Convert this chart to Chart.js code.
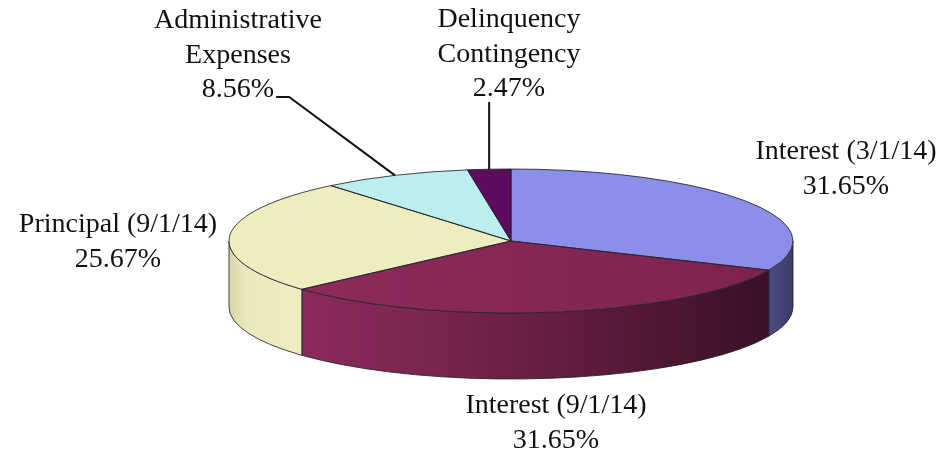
<!DOCTYPE html>
<html>
<head>
<meta charset="utf-8">
<script src="https://cdn.jsdelivr.net/npm/chart.js@4.4.1/dist/chart.umd.min.js"></script>
<style>
  html, body { margin: 0; padding: 0; background: #fff; }
  canvas { display: block; }
</style>
</head>
<body>
<canvas id="pie" width="948" height="459"></canvas>
<script>
// --- data ---
const categories = ['Interest (3/1/14)', 'Interest (9/1/14)', 'Principal (9/1/14)', 'Administrative Expenses', 'Delinquency Contingency'];
const shares = [31.65, 31.65, 25.67, 8.56, 2.47];
const labelLines = [['Interest (3/1/14)'], ['Interest (9/1/14)'], ['Principal (9/1/14)'], ['Administrative', 'Expenses'], ['Delinquency', 'Contingency']];

// --- look ---
const topColors = ['#8b8fe9', '#8c2a5a', '#ededc0', '#bdeeee', '#5e0a5e'];
const edgeColor = 'rgba(35,35,45,0.85)';
const FONT = '28px "Liberation Serif", "Times New Roman", serif';
const LINE_H = 34.5;

// ellipse of the top face and height of the side wall, in screen px
const CX = 511, CY = 241, RX = 282, RY = 72, DEPTH = 66;

// label anchors: centre x, first baseline
const labelPos = [
    { x: 846, y: 159 },
    { x: 556, y: 413 },
    { x: 118, y: 232 },
    { x: 238, y: 28 },
    { x: 509, y: 27 }
];
const leaderKind = [null, null, null, 'side', 'below'];

function sideFill(ctx, i) {
    let g;
    if (i === 0) {
        g = ctx.createLinearGradient(770, 0, 793, 0);
        g.addColorStop(0, '#4a4b82');
        g.addColorStop(1, '#3c3c69');
    } else if (i === 1) {
        g = ctx.createLinearGradient(300, 0, 770, 0);
        g.addColorStop(0, '#8d2b5c');
        g.addColorStop(0.45, '#6c2047');
        g.addColorStop(1, '#3a1025');
    } else {
        g = ctx.createLinearGradient(228, 0, 300, 0);
        g.addColorStop(0, '#d6d5a6');
        g.addColorStop(0.25, '#eae9bb');
        g.addColorStop(1, '#efeec2');
    }
    return g;
}

function topBackground(c) {
    const i = c.dataIndex;
    const area = c.chart.chartArea;
    if (i !== 1 || !area) return topColors[i];
    const mid = (area.left + area.right) / 2;
    const r = Math.min(area.right - area.left, area.bottom - area.top) / 2;
    const g = c.chart.ctx.createLinearGradient(mid - r, 0, mid + r, 0);
    g.addColorStop(0, '#902c5d');
    g.addColorStop(1, '#7c224e');
    return g;
}

function toScreen(ctx, a0) {
    const R = a0.outerRadius;
    ctx.translate(CX, CY);
    ctx.scale(RX / R, RY / R);
    ctx.translate(-a0.x, -a0.y);
}

const pie3d = {
    id: 'pie3d',
    beforeDatasetsDraw(chart) {
        const ctx = chart.ctx;
        const arcs = chart.getDatasetMeta(0).data;
        const a0 = arcs[0];
        const R = a0.outerRadius;
        const dl = DEPTH * R / RY;
        // side wall, only the front half shows
        arcs.forEach((arc, i) => {
            const lo = Math.max(arc.startAngle, 0);
            const hi = Math.min(arc.endAngle, Math.PI);
            if (lo >= hi) return;
            ctx.save();
            toScreen(ctx, a0);
            ctx.beginPath();
            ctx.arc(arc.x, arc.y, R, lo, hi);
            ctx.lineTo(arc.x + R * Math.cos(hi), arc.y + dl + R * Math.sin(hi));
            ctx.arc(arc.x, arc.y + dl, R, hi, lo, true);
            ctx.closePath();
            ctx.restore();
            ctx.fillStyle = sideFill(ctx, i);
            ctx.fill();
            ctx.lineWidth = 1;
            ctx.strokeStyle = edgeColor;
            ctx.stroke();
        });
        // top faces get drawn by the chart under this transform
        ctx.save();
        toScreen(ctx, a0);
    },
    afterDatasetsDraw(chart) {
        const ctx = chart.ctx;
        ctx.restore();
        const arcs = chart.getDatasetMeta(0).data;
        const a0 = arcs[0];
        const R = a0.outerRadius;
        arcs.forEach(arc => {
            ctx.save();
            toScreen(ctx, a0);
            ctx.beginPath();
            ctx.moveTo(arc.x, arc.y);
            ctx.arc(arc.x, arc.y, R, arc.startAngle, arc.endAngle);
            ctx.closePath();
            ctx.restore();
            ctx.lineWidth = 1;
            ctx.strokeStyle = edgeColor;
            ctx.stroke();
        });
    },
    afterDraw(chart) {
        const ctx = chart.ctx;
        const arcs = chart.getDatasetMeta(0).data;
        ctx.save();
        ctx.font = FONT;
        ctx.fillStyle = '#111';
        ctx.textAlign = 'center';
        ctx.textBaseline = 'alphabetic';
        arcs.forEach((arc, i) => {
            const p = labelPos[i];
            const lines = labelLines[i].concat([shares[i].toFixed(2) + '%']);
            lines.forEach((t, k) => ctx.fillText(t, p.x, p.y + k * LINE_H));
            const kind = leaderKind[i];
            if (!kind) return;
            const mid = (arc.startAngle + arc.endAngle) / 2;
            const ex = CX + RX * Math.cos(mid);
            const ey = CY + RY * Math.sin(mid);
            const lastY = p.y + (lines.length - 1) * LINE_H;
            ctx.beginPath();
            if (kind === 'side') {
                const w = ctx.measureText(lines[lines.length - 1]).width;
                const sx = p.x + w / 2 + 2;
                ctx.moveTo(sx, lastY);
                ctx.lineTo(sx + 13, lastY);
            } else {
                ctx.moveTo(ex, lastY + 6);
            }
            ctx.lineTo(ex, ey);
            ctx.lineWidth = 2;
            ctx.strokeStyle = '#111';
            ctx.stroke();
        });
        ctx.restore();
    }
};

new Chart(document.getElementById('pie'), {
    type: 'pie',
    data: {
        labels: categories,
        datasets: [{
            data: shares,
            backgroundColor: topBackground,
            borderWidth: 0
        }]
    },
    options: {
        responsive: false,
        devicePixelRatio: 1,
        animation: false,
        events: [],
        plugins: {
            legend: { display: false },
            tooltip: { enabled: false }
        }
    },
    plugins: [pie3d]
});
</script>
</body>
</html>
